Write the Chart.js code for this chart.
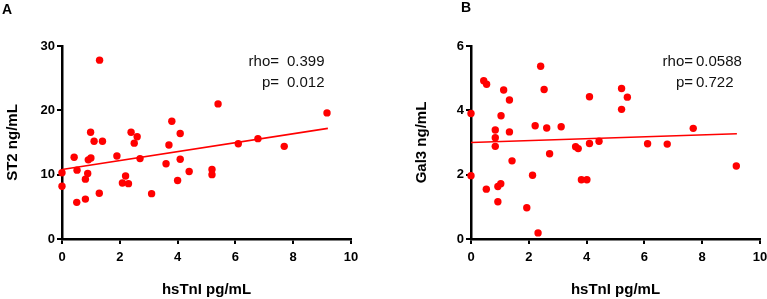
<!DOCTYPE html>
<html>
<head>
<meta charset="utf-8">
<script src="https://cdn.jsdelivr.net/npm/chart.js@4.4.1/dist/chart.umd.min.js"></script>
<style>
  html, body { margin: 0; padding: 0; background: #fff; overflow: hidden; }
  body { width: 767px; height: 299px; position: relative; font-family: "Liberation Sans", Arial, sans-serif; }
  .panel { position: absolute; top: 0; height: 299px; }
  .letter { position: absolute; font-weight: bold; font-size: 14px; line-height: 14px; color: #000; }
  .stat { position: absolute; font-size: 15px; line-height: 21px; color: #111; white-space: nowrap; }
  .stat.lab { text-align: right; }
</style>
</head>
<body>
<div class="panel" style="left:0;width:383px"><canvas id="chartA"></canvas></div>
<div class="panel" style="left:383px;width:420px"><canvas id="chartB"></canvas></div>

<div class="letter" style="left:2px;top:1.5px">A</div>
<div class="letter" style="left:461px;top:0px">B</div>

<div class="stat lab" style="left:200px;width:79px;top:50px">rho=<br>p=</div>
<div class="stat" style="left:287px;top:50px">0.399<br>0.012</div>
<div class="stat lab" style="left:600px;width:93px;top:50px">rho=<br>p=</div>
<div class="stat" style="left:696px;top:50px">0.0588<br>0.722</div>

<script>
// hsTnI (x) vs ST2 (y), panel A
const st2X = [0, 0, 0.42, 0.52, 0.51, 0.81, 0.81, 0.89, 0.91, 1.0, 0.99, 1.11, 1.4, 1.29, 1.3,
  1.9, 2.09, 2.2, 2.3, 2.39, 2.6, 2.5, 2.7, 3.1, 3.6, 3.7, 3.8, 4.09, 4.09, 4.0, 4.4,
  5.19, 5.19, 5.4, 6.1, 6.78, 7.69, 9.17];
const st2Y = [10.3, 8.2, 12.7, 10.7, 5.7, 6.2, 9.3, 10.2, 12.3, 12.6, 16.6, 15.2, 15.2, 7.1, 27.8,
  12.9, 8.7, 9.8, 8.6, 16.6, 15.9, 14.9, 12.5, 7.05, 11.7, 14.6, 18.3, 16.4, 12.4, 9.1, 10.5,
  10.8, 10.0, 21.0, 14.8, 15.6, 14.4, 19.6];
const st2FitX = [0, 9.2];
const st2FitY = [10.8, 17.2];

// hsTnI (x) vs Gal3 (y), panel B
const gal3X = [0, 0.44, 0.54, 1.13, 1.33, 1.04, 0.84, 0.84, 1.33, 0.84, 2.41, 2.53, 2.22, 2.62,
  3.12, 4.1, 3.62, 3.71, 4.1, 0, 0.53, 0.93, 1.03, 0.93, 1.42, 1.93, 2.13, 2.32, 2.72,
  3.82, 4.01, 5.21, 5.41, 5.21, 7.69, 4.43, 6.11, 6.79, 9.18];
const gal3Y = [3.9, 4.92, 4.81, 4.63, 4.32, 3.83, 3.39, 3.15, 3.33, 2.88, 5.37, 4.65, 3.52, 3.45,
  3.49, 4.42, 2.87, 2.81, 2.97, 1.97, 1.55, 1.63, 1.72, 1.16, 2.43, 0.97, 1.98, 0.19, 2.65,
  1.84, 1.84, 4.68, 4.41, 4.03, 3.44, 3.04, 2.96, 2.95, 2.27];
const gal3FitX = [0, 9.2];
const gal3FitY = [3.0, 3.27];

const xTicks = [0, 2, 4, 6, 8, 10];
const st2Ticks = [0, 10, 20, 30];
const gal3Ticks = [0, 2, 4, 6];

const RED = "#ff0000";
const FONT = "'Liberation Sans', Arial, sans-serif";

function pairs(xs, ys) {
  return xs.map((x, i) => ({ x: x, y: ys[i] }));
}

function axis(ticks, titleText, isX) {
  return {
    type: "linear",
    min: ticks[0],
    max: ticks[ticks.length - 1],
    afterBuildTicks: s => { s.ticks = ticks.map(v => ({ value: v })); },
    border: { display: true, color: "#000", width: 2.5 },
    grid: { display: true, drawOnChartArea: false, drawTicks: true, tickLength: 5, color: "#000", lineWidth: 2 },
    ticks: { color: "#000", padding: isX ? 6 : 2, font: { family: FONT, size: 13, weight: "bold" }, maxRotation: 0 },
    title: { display: true, text: titleText, color: "#000", padding: { top: 4, bottom: 0 }, font: { family: FONT, size: 15, weight: "bold" } },
    afterFit: s => { if (isX) s.height = 60; else s.width = 62; }
  };
}

function createPanel(canvasId, xs, ys, fitX, fitY, yTicks, yTitle, pad) {
  const ctx = document.getElementById(canvasId).getContext("2d");
  return new Chart(ctx, {
    type: "scatter",
    data: {
      datasets: [
        {
          data: pairs(xs, ys),
          backgroundColor: RED,
          borderWidth: 0,
          pointRadius: 3.7,
          clip: false
        },
        {
          type: "line",
          data: pairs(fitX, fitY),
          borderColor: RED,
          borderWidth: 1.6,
          pointRadius: 0,
          fill: false,
          clip: false
        }
      ]
    },
    options: {
      responsive: true,
      maintainAspectRatio: false,
      animation: false,
      layout: { padding: pad },
      plugins: { legend: { display: false }, tooltip: { enabled: false } },
      scales: {
        x: axis(xTicks, "hsTnI pg/mL", true),
        y: axis(yTicks, yTitle, false)
      }
    }
  });
}

createPanel("chartA", st2X, st2Y, st2FitX, st2FitY, st2Ticks, "ST2 ng/mL", { top: 46, right: 32, left: 0, bottom: 0 });
createPanel("chartB", gal3X, gal3Y, gal3FitX, gal3FitY, gal3Ticks, "Gal3 ng/mL", { top: 46, right: 43, left: 26, bottom: 0 });
</script>
</body>
</html>
